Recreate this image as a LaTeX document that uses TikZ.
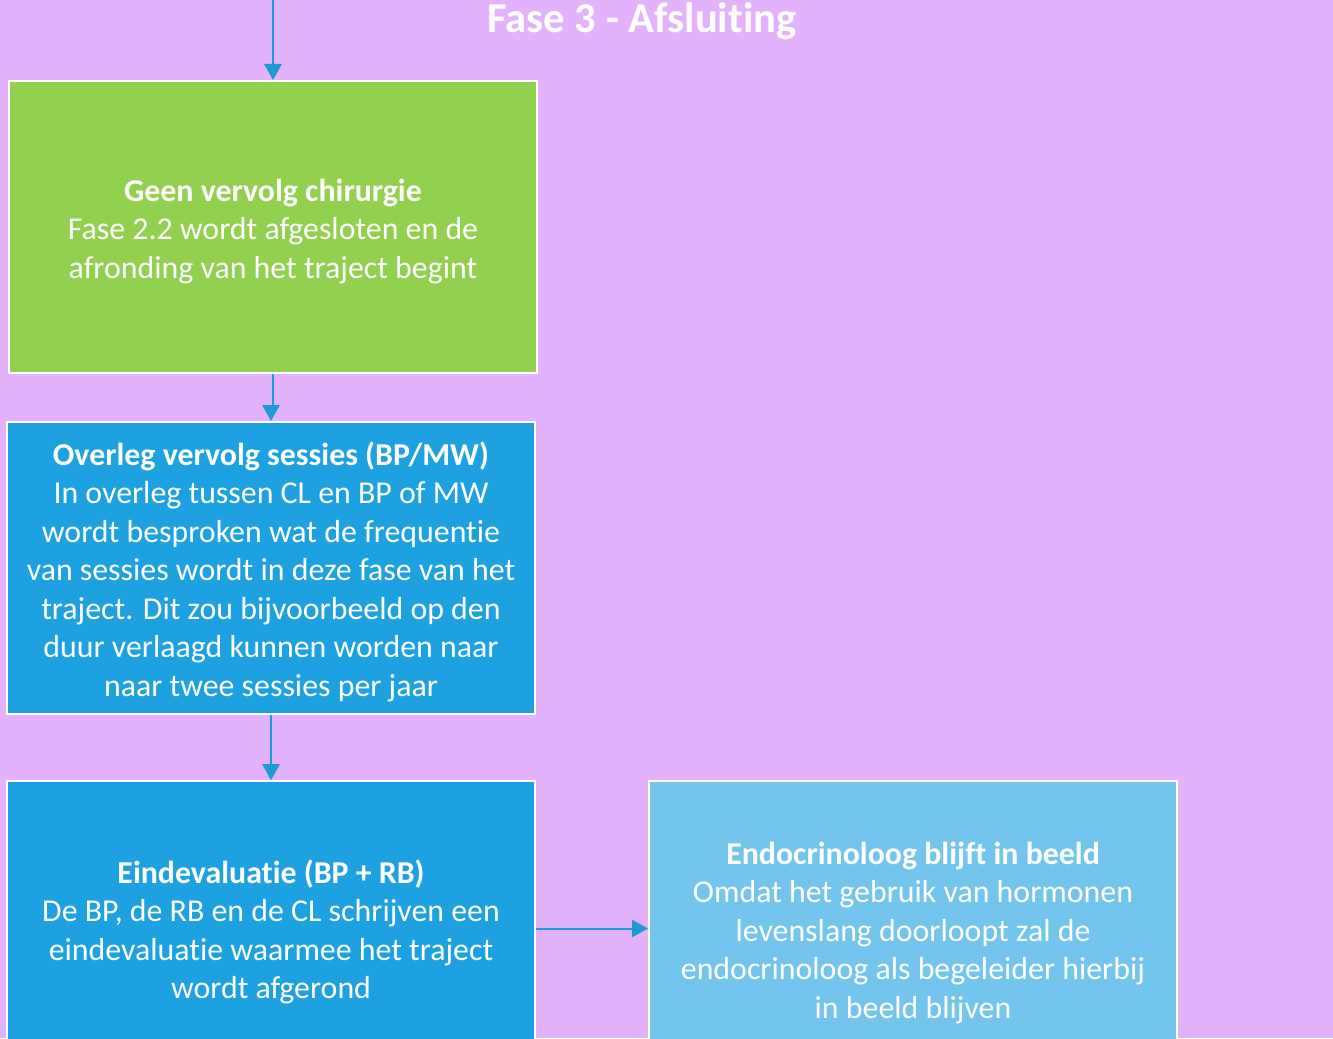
\documentclass[tikz,border=0pt]{standalone}
\usepackage{fontspec}
\setmainfont{Carlito}[RawFeature={-liga;-clig;-calt;-dlig}]
\usetikzlibrary{arrows.meta}
\definecolor{fasebg}{HTML}{E2B3FC}
\definecolor{groen}{HTML}{92D050}
\definecolor{blauw}{HTML}{1DA1E0}
\definecolor{lichtblauw}{HTML}{73C5EE}
\definecolor{pijlblauw}{HTML}{1E9AD8}
\newcommand{\kop}[1]{\rule{0pt}{23pt}\textbf{#1}}

\begin{document}
\begin{tikzpicture}[x=0.75pt,y=-0.75pt,>={Triangle[length=12pt,width=13pt]},
  stap/.style={draw=white,line width=1.5pt,minimum width=396pt,minimum height=219pt,align=center,text=white,inner sep=0pt,font=\fontsize{23.9}{28.9}\selectfont},
  pijl/.style={->,draw=pijlblauw,line width=1.5pt}]
  \clip (0,0) rectangle (1333,1038);
  \fill[fasebg] (0,0) rectangle (1333,1038);
  \useasboundingbox (0,0) rectangle (1333,1038);
  \node[anchor=base,text=white,font=\fontsize{31.9}{38}\selectfont\bfseries] (titel) at (642,33) {Fase 3 - Afsluit\kern0pt ing};
  \coordinate (start) at (273,0);
  \node[stap,fill=groen] (chir) at (273,227) {\kop{Geen vervolg chirurgie}\\Fase 2.2 wordt afgesloten en de\\afronding van het traject begint};
  \node[stap,fill=blauw] (overleg) at (271,568) {\kop{Overleg vervolg sessies (BP/MW)}\\In overleg tussen CL en BP of MW\\wordt besproken wat de frequent\kern0pt ie\\van sessies wordt in deze fase van het\\traject. Dit zou bijvoorbeeld op den\\duur verlaagd kunnen worden naar\\naar twee sessies per jaar};
  \node[stap,fill=blauw,minimum height=221pt] (eind) at (271,928.5) {\kop{Eindevaluat\kern0pt ie (BP + RB)}\\De BP, de RB en de CL schrijven een\\eindevaluat\kern0pt ie waarmee het traject\\wordt afgerond};
  \node[stap,fill=lichtblauw,minimum height=221pt] (endo) at (913,928.5) {\kop{Endocrinoloog blijft in beeld}\\Omdat het gebruik van hormonen\\levenslang doorloopt zal de\\endocrinoloog als begeleider hierbij\\in beeld blijven};
  \draw[pijl] (start) -- (chir.north);
  \draw[pijl] (chir.south) -- ++(0,32) -| (overleg.north);
  \draw[pijl] (overleg.south) -- (eind.north);
  \draw[pijl] (eind.east) -- (endo.west);
\end{tikzpicture}
\end{document}
